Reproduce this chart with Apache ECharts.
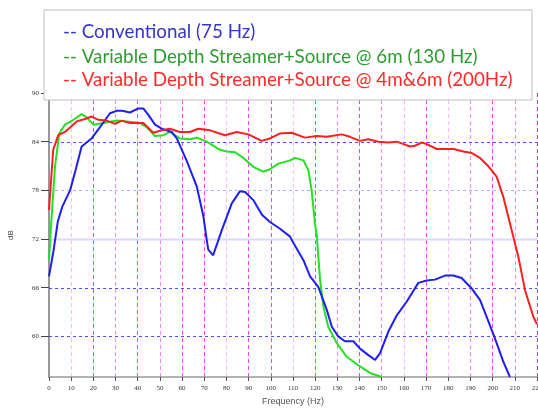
<!DOCTYPE html>
<html>
<head>
<meta charset="utf-8">
<script src="https://cdn.jsdelivr.net/npm/echarts@6/dist/echarts.min.js"></script>
<style>html,body{margin:0;padding:0;background:#fff}#c{width:538px;height:408px}</style>
</head>
<body>
<div id="c"></div>
<script>
const yTicks = [60,66,72,78,84,90];

const blueFreq = [0,2,4,6,9.5,12,14.7,19.2,23,27.5,30.5,33,36.5,40.3,42.5,44.8,47.8,50.8,55.3,57.6,62,66.6,69.6,71.1,71.8,74,77.9,82.4,86.1,88.4,92.1,96,99.6,104,108.7,110.2,114.7,117.7,121.4,125.2,127.5,130.4,133.4,137.2,140.2,144,147,149.2,153,156.8,161.3,166.5,170.3,174,178.5,182.3,186,190.6,194.3,197.3,201,204.8,207.8];
const blueDb   = [67.4,70.5,74.2,76.0,78.0,80.5,83.4,84.4,85.8,87.5,87.8,87.8,87.6,88.1,88.1,87.3,86.1,85.6,85.2,84.4,81.7,78.5,74.8,71.9,70.7,70.0,73.1,76.4,77.9,77.8,76.8,75.0,74.1,73.3,72.3,71.5,69.4,67.4,66.1,63.3,61.2,60.0,59.4,59.4,58.5,57.7,57.1,57.9,60.6,62.6,64.3,66.6,66.9,67.0,67.5,67.5,67.2,65.9,64.5,62.4,59.8,56.9,55.0];

const greenFreq = [0,1,2.7,4.6,7.2,11,14.7,17,20,24.5,30.5,35,41,44,47.8,51.5,54.5,59,63.6,66.6,71.1,77.1,80.1,83.9,87.6,92.1,96.6,99.6,103.4,108.7,111,114.7,116.9,118.4,119.9,120.7,122.2,123.7,125.9,129.7,134.2,140.2,144.7,150];
const greenDb   = [69.4,74.0,80.9,85.0,86.1,86.7,87.4,87.0,86.1,86.3,86.6,86.5,86.3,85.8,84.7,84.8,85.2,84.4,84.3,84.5,84.0,83.0,82.8,82.7,82.0,80.9,80.3,80.6,81.3,81.7,82.0,81.7,80.5,78.0,73.9,72.5,67.0,63.7,61.2,59.2,57.5,56.3,55.5,55.0];

const redFreq = [0,1.9,4.2,7.2,12.5,16.2,19.2,22.2,26,29.8,32.8,36.5,42.5,47,50.8,54.5,59,63.6,67.3,72.6,79.3,84.6,89.9,95.9,99.6,104,109.4,115.4,120.7,125.2,132,135.7,140.2,144,148.5,153,156.8,159.8,162.8,165,168,170.3,174.8,179.3,182.3,186.8,190.6,194.3,198,201.8,204.8,207,209.3,211.6,214.6,218.4,220];
const redDb   = [75.6,83.0,84.8,85.2,86.5,86.8,87.1,86.7,86.6,86.2,86.6,86.3,86.3,85.1,85.4,85.6,85.2,85.2,85.6,85.4,84.8,85.2,84.9,84.1,84.4,85.0,85.1,84.5,84.7,84.6,84.9,84.6,84.1,84.3,84.0,83.9,84.0,83.7,83.4,83.5,83.9,83.7,83.1,83.1,83.1,82.8,82.6,82.0,81.0,79.7,77.2,74.8,72.3,69.8,65.7,62.4,61.5];

const legendLines = [
  '-- Conventional (75 Hz)',
  '-- Variable Depth Streamer+Source @ 6m (130 Hz)',
  '-- Variable Depth Streamer+Source @ 4m&6m (200Hz)'
];

const gridValues = [84, 78, 72, 66, 60];
const gridStyles = [
  {stroke: '#4f4fff', lineDash: [3, 3], lineWidth: 1},
  {stroke: '#b0b0fc', lineDash: [3, 3], lineWidth: 1},
  {stroke: '#d8d8fc', lineDash: null, lineWidth: 2},
  {stroke: '#4f4fff', lineDash: [3, 3], lineWidth: 1},
  {stroke: '#4f4fff', lineDash: [3, 3], lineWidth: 1}
];

const zip = (a, b) => a.map((v, i) => [v, b[i]]);

const chart = echarts.init(document.getElementById('c'));

chart.setOption({
  animation: false,
  grid: {left: 49, right: 1, top: 93, bottom: 31, outerBoundsMode: 'none', containLabel: false},
  xAxis: {
    type: 'value', min: 0, max: 220, interval: 10,
    name: 'Frequency (Hz)', nameLocation: 'middle', nameGap: 20,
    nameTextStyle: {fontSize: 9, color: '#555', fontFamily: 'Liberation Sans'},
    axisLine: {lineStyle: {color: '#999', width: 1.5}},
    axisTick: {show: true, length: 4, lineStyle: {color: '#555'}},
    axisLabel: {fontSize: 7, color: '#333', fontFamily: 'Liberation Serif', margin: 8, hideOverlap: false},
    splitLine: {show: true, lineStyle: {
      color: ['#ffffff','#fbb8fb','#ee44ee','#f58af5','#ee44ee','#f58af5','#ee44ee','#ee44ee','#fbb8fb','#ee44ee','#ee44ee','#fbb8fb','#ee44ee','#f58af5','#ee44ee','#f58af5','#fbb8fb','#ee44ee','#fbb8fb','#f58af5','#ee44ee','#f58af5','#b040c0'],
      type: [4, 3], width: 1}}
  },
  yAxis: {
    type: 'value', min: 55, max: 90,
    name: 'dB', nameLocation: 'middle', nameGap: 34, nameRotate: 90,
    nameTextStyle: {fontSize: 8, color: '#444', fontFamily: 'Liberation Sans'},
    axisLine: {show: true, lineStyle: {color: '#999', width: 2}},
    axisTick: {show: true, length: 8, customValues: yTicks, lineStyle: {color: '#444'}},
    axisLabel: {fontSize: 7, color: '#333', fontFamily: 'Liberation Serif', margin: 10, customValues: yTicks},
    splitLine: {show: false}
  },
  graphic: [
    {type: 'rect', z: 100, shape: {x: 44, y: 10, width: 488, height: 90},
     style: {fill: '#fff', stroke: '#bdbdbd', lineWidth: 1}},
    {type: 'text', z: 101, x: 63, y: 32, style: {text: legendLines[0], fill: '#3535c8', font: '18.8px Lato', textVerticalAlign: 'middle'}},
    {type: 'text', z: 101, x: 63, y: 57, style: {text: legendLines[1], fill: '#2f9c2f', font: '18.8px Lato', textVerticalAlign: 'middle'}},
    {type: 'text', z: 101, x: 63, y: 80, style: {text: legendLines[2], fill: '#ff2a2a', font: '18.8px Lato', textVerticalAlign: 'middle'}}
  ],
  series: [
    {type: 'custom', silent: true, z: 1,
     data: gridValues.map(v => [0, v]),
     encode: {x: 0, y: 1},
     renderItem: function (params, api) {
       const cs = params.coordSys;
       const y = Math.round(api.coord([0, api.value(1)])[1]) + 0.5;
       const s = gridStyles[params.dataIndex];
       return {type: 'line', silent: true,
         shape: {x1: cs.x, y1: y, x2: cs.x + cs.width, y2: y},
         style: {stroke: s.stroke, lineDash: s.lineDash, lineWidth: s.lineWidth, fill: null}};
     }},
    {type: 'line', name: 'Conventional', data: zip(blueFreq, blueDb), symbol: 'none',
     lineStyle: {color: '#1e1ef0', width: 2}, z: 5},
    {type: 'line', name: 'VDS 6m', data: zip(greenFreq, greenDb), symbol: 'none',
     lineStyle: {color: '#22e022', width: 2}, z: 4},
    {type: 'line', name: 'VDS 4m&6m', data: zip(redFreq, redDb), symbol: 'none',
     lineStyle: {color: '#ff1e1e', width: 2}, z: 6}
  ]
});
</script>
</body>
</html>
